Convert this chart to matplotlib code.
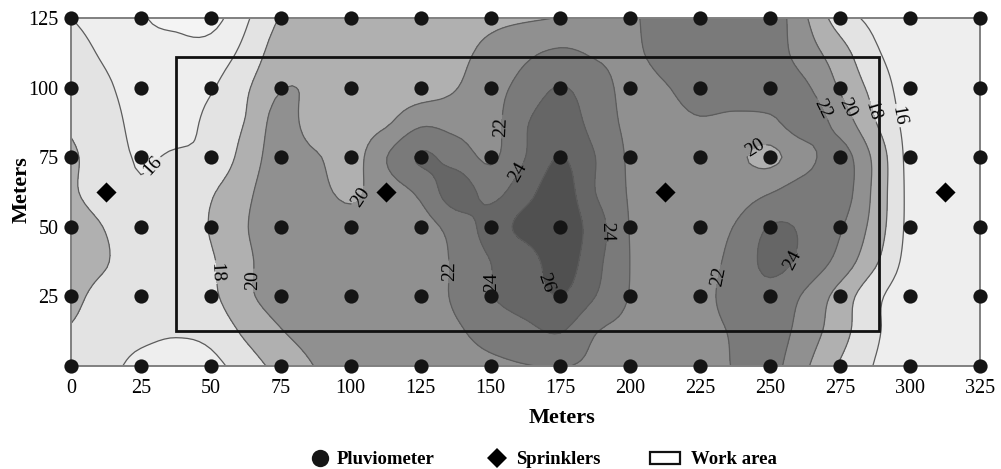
import numpy as np
import matplotlib
matplotlib.use("Agg")
import matplotlib.pyplot as plt
from matplotlib.patches import Rectangle

plt.rcParams['font.family'] = ['Liberation Serif', 'DejaVu Serif']

x_m = [0, 25, 50, 75, 100, 125, 150, 175, 200, 225, 250, 275, 300, 325]
y_m = [0, 25, 50, 75, 100, 125]
rain = [
    [16.5, 15.4, 15.4, 18.7, 21.0, 20.8, 21.5, 22.1, 21.0, 21.3, 22.6, 17.8, 15.0, 15.0],
    [18.5, 17.0, 17.6, 20.8, 21.2, 20.9, 23.9, 26.0, 21.9, 21.5, 23.3, 19.2, 14.9, 15.0],
    [19.0, 16.8, 18.1, 21.0, 20.6, 21.2, 24.8, 27.3, 21.9, 21.0, 24.1, 22.2, 15.5, 15.0],
    [18.3, 15.8, 16.5, 21.0, 19.2, 24.2, 21.7, 26.1, 21.7, 20.6, 19.6, 22.8, 15.4, 15.0],
    [17.9, 14.8, 15.8, 19.9, 19.0, 19.0, 21.2, 24.1, 21.5, 22.8, 23.0, 19.8, 15.0, 15.0],
    [16.0, 14.1, 13.3, 18.1, 19.0, 19.5, 19.6, 20.1, 21.7, 23.2, 23.2, 17.0, 14.8, 14.9],
]
# Further readings taken between the pluviometers: (x, y, value)
between = [
    (12.5, 0, 16.5), (37.5, 0, 15.0), (62.5, 0, 17.0), (0, 12.5, 17.8), (12.5, 12.5, 17.0), (25, 12.5, 16.5),
    (37.5, 12.5, 16.2), (50, 12.5, 16.6), (62.5, 12.5, 18.4), (75, 12.5, 19.9), (12.5, 25, 17.4), (62.5, 25, 19.6),
    (12.5, 37.5, 18.1), (50, 37.5, 17.8), (12.5, 50, 17.9), (62.5, 50, 19.9), (0, 62.5, 18.3), (12.5, 62.5, 17.0),
    (25, 62.5, 16.2), (37.5, 62.5, 17.0), (50, 62.5, 17.8), (62.5, 62.5, 19.6), (12.5, 75, 17.0), (37.5, 75, 16.3),
    (62.5, 75, 18.8), (87.5, 75, 20.2), (0, 87.5, 17.8), (12.5, 87.5, 16.9), (25, 87.5, 15.2), (37.5, 87.5, 15.0),
    (50, 87.5, 16.6), (62.5, 87.5, 18.1), (75, 87.5, 20.8), (87.5, 87.5, 19.0), (12.5, 100, 16.4), (37.5, 100, 14.7),
    (62.5, 100, 17.7), (12.5, 112.5, 15.6), (37.5, 112.5, 14.4), (50, 112.5, 14.8), (62.5, 112.5, 16.6),
    (25, 125, 14.1), (37.5, 125, 13.7), (62.5, 125, 15.7), (100, 62.5, 19.7),
    (112.5, 62.5, 21.0), (125, 62.5, 22.4), (137.5, 62.5, 25.0), (150, 62.5, 23.4), (162.5, 62.5, 25.3),
    (175, 62.5, 27.0), (187.5, 62.5, 24.0), (200, 62.5, 21.8), (112.5, 75, 21.9), (137.5, 75, 23.2),
    (162.5, 75, 24.0), (187.5, 75, 24.0), (112.5, 87.5, 19.7), (125, 87.5, 21.6), (137.5, 87.5, 21.3),
    (162.5, 87.5, 23.8), (175, 87.5, 25.2), (187.5, 87.5, 23.2), (162.5, 100, 22.7), (187.5, 100, 22.8),
    (162.5, 112.5, 21.6), (175, 112.5, 22.3), (187.5, 112.5, 21.8), (125, 50, 21.2), (137.5, 50, 22.8),
    (187.5, 50, 25.0), (137.5, 37.5, 22.3), (150, 37.5, 24.0), (162.5, 37.5, 25.0), (187.5, 37.5, 24.6),
    (137.5, 25, 22.3), (162.5, 25, 24.8), (187.5, 25, 24.0), (137.5, 12.5, 21.7), (150, 12.5, 22.8),
    (162.5, 12.5, 23.5), (175, 12.5, 24.1), (187.5, 12.5, 22.1),
    (200, 112.5, 21.7), (212.5, 112.5, 22.6), (225, 112.5, 23.2), (250, 112.5, 23.0), (262.5, 112.5, 21.0),
    (275, 112.5, 18.8), (287.5, 112.5, 16.3), (212.5, 125, 22.8), (237.5, 125, 23.3), (212.5, 100, 21.9),
    (237.5, 100, 23.0), (262.5, 100, 22.3), (287.5, 100, 17.3), (225, 87.5, 21.8), (237.5, 87.5, 21.5),
    (250, 87.5, 21.6), (262.5, 87.5, 23.0), (275, 87.5, 21.2), (287.5, 87.5, 18.1), (300, 87.5, 15.3),
    (237.5, 75, 20.3), (262.5, 75, 21.3), (287.5, 75, 19.5), (237.5, 62.5, 21.0), (250, 62.5, 21.9),
    (262.5, 62.5, 23.0), (275, 62.5, 23.0), (287.5, 62.5, 19.5), (225, 50, 21.0), (237.5, 50, 22.1),
    (262.5, 50, 23.7), (287.5, 50, 19.2), (237.5, 37.5, 22.6), (250, 37.5, 24.5), (262.5, 37.5, 23.4),
    (275, 37.5, 21.3), (287.5, 37.5, 18.3), (300, 37.5, 15.3), (237.5, 25, 22.7), (262.5, 25, 21.7),
    (287.5, 25, 16.5), (237.5, 12.5, 22.2), (262.5, 12.5, 21.1), (275, 12.5, 18.8), (287.5, 12.5, 16.3),
    (300, 12.5, 15.0), (237.5, 0, 22.1), (262.5, 0, 20.3), (287.5, 0, 15.9),
]
levels = [14, 16, 18, 20, 22, 24, 26]
fill_greys = ['#f4f4f4', '#eeeeee', '#e3e3e3', '#b0b0b0', '#909090', '#7a7a7a', '#666666', '#505050']
sprinkler_x = [12.5, 112.5, 212.5, 312.5]
sprinkler_y = [62.5, 62.5, 62.5, 62.5]
work_area = (37.5, 12.5, 251.5, 98.5)
label_spots = [(30.7, 70.6), (296, 90), (50.8, 33.7), (288, 92), (63.6, 30.8), (102, 61.5),
               (245, 77.7), (278.5, 93), (135.5, 34), (153.4, 86), (194.5, 48.4),
               (232.7, 32), (268, 92), (152, 30), (159.8, 69.5), (256, 39), (168.7, 29.7)]


def smooth_along(a, factor, axis):
    """Catmull-Rom resampling of a regular grid, only to draw smooth contours."""
    a = np.moveaxis(a, axis, 0)
    p = np.concatenate([[2 * a[0] - a[1]], a, [2 * a[-1] - a[-2]]])
    n = a.shape[0]
    t = np.linspace(0, n - 1, (n - 1) * factor + 1)
    i = np.minimum(t.astype(int), n - 2)
    u = (t - i).reshape((-1,) + (1,) * (a.ndim - 1))
    p0, p1, p2, p3 = p[i], p[i + 1], p[i + 2], p[i + 3]
    out = 0.5 * (2 * p1 + (p2 - p0) * u + (2 * p0 - 5 * p1 + 4 * p2 - p3) * u ** 2
                 + (3 * p1 - p0 - 3 * p2 + p3) * u ** 3)
    return np.moveaxis(out, 0, axis)


def resample(a, factor):
    return smooth_along(smooth_along(a, factor, 0), factor, 1)


z = resample(np.array(rain, dtype=float), 2)
for xv, yv, val in between:
    z[int(round(yv / 12.5)), int(round(xv / 12.5))] = val
z = resample(z, 6)
xf = np.linspace(x_m[0], x_m[-1], z.shape[1])
yf = np.linspace(y_m[0], y_m[-1], z.shape[0])

W, H = 1001, 469
fig = plt.figure(figsize=(W / 100, H / 100), dpi=100)
ax = fig.add_axes([71 / W, (H - 366) / H, (980 - 71) / W, (366 - 18) / H])

ax.contourf(xf, yf, z, levels=levels, colors=fill_greys, extend='both')
cs = ax.contour(xf, yf, z, levels=levels, colors='#5c5c5c', linewidths=0.9)
ax.clabel(cs, levels=levels, manual=label_spots, fmt='%d', fontsize=14, colors='black', inline=True, inline_spacing=2)

xx, yy = np.meshgrid(x_m, y_m)
ax.add_patch(Rectangle(work_area[:2], work_area[2], work_area[3], fill=False, ec='#111111', lw=2, zorder=4))
ax.scatter(xx.ravel(), yy.ravel(), s=105, c='#151515', zorder=5, clip_on=False, linewidths=0)
ax.scatter(sprinkler_x, sprinkler_y, s=105, marker='D', c='black', zorder=5, linewidths=0)

ax.set_xlim(0, 325)
ax.set_ylim(0, 125)
ax.set_xticks(x_m)
ax.set_yticks(y_m)
ax.set_yticklabels([''] + [str(v) for v in y_m[1:]])
ax.tick_params(axis='both', labelsize=14.5, length=4, color='#555555', top=True, right=True, pad=5)
for s in ax.spines.values():
    s.set_color('#808080')
    s.set_linewidth(1.4)
ax.set_xlabel('Meters', fontweight='bold', fontsize=16)
ax.xaxis.set_label_coords((562 - 71) / 909, -(408 - 366) / 348)
ax.set_ylabel('Meters', fontweight='bold', fontsize=16)
ax.yaxis.set_label_coords((32 - 71) / 909, (366 - 190) / 348)

leg = fig.add_axes([0, 0, 1, 1], facecolor='none')
leg.set_xlim(0, W)
leg.set_ylim(H, 0)
leg.axis('off')
leg.plot([320], [458], 'o', ms=12.5, color='#151515', mew=0)
leg.plot([497], [458], 'D', ms=10, color='black', mew=0)
leg.add_patch(Rectangle((650, 452), 30, 12, fc='white', ec='#111111', lw=1.6))
for tx, s in [(337, 'Pluviometer'), (516, 'Sprinklers'), (691, 'Work area')]:
    leg.text(tx, 459.5, s, fontweight='bold', fontsize=13.5, va='center', ha='left')

fig.savefig('out.png', dpi=100)
